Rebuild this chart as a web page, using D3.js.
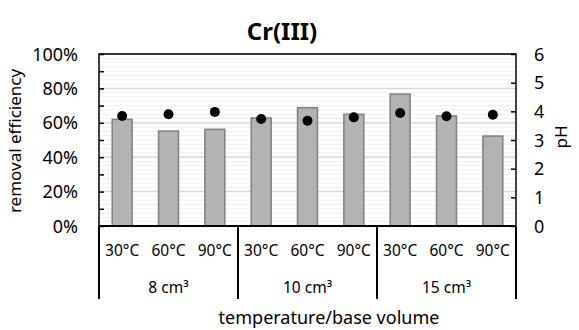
<!DOCTYPE html>
<html><head><meta charset="utf-8">
<script src="https://cdn.jsdelivr.net/npm/d3@7"></script>
<style>body{margin:0;background:#fff}svg{display:block}text{font-family:"Noto Sans",sans-serif;fill:#000}</style>
</head><body>
<svg id="c" width="579" height="330"></svg>
<script>
const temperatures = ["30°C","60°C","90°C","30°C","60°C","90°C","30°C","60°C","90°C"];
const groups = ["8 cm³","10 cm³","15 cm³"];
const efficiency = [0.62,0.552,0.562,0.628,0.688,0.649,0.767,0.64,0.523];
const pH = [3.84,3.90,3.98,3.73,3.67,3.79,3.94,3.83,3.88];
const effTicks = [0,0.2,0.4,0.6,0.8,1.0];
const pHTicks = [0,1,2,3,4,5,6];

const svg = d3.select("#c");
const L=99,R=516,T=54,B=226;
const idx = d3.range(temperatures.length);
const x = d3.scaleBand().domain(idx).range([L,R]).paddingInner(0.57).paddingOuter(0.285);
const xc = d3.scaleBand().domain(idx).range([L,R]);
const y = d3.scaleLinear().domain([0,1]).range([B,T]);
const y2 = d3.scaleLinear().domain([0,6]).range([B,T]);

// minor grid
svg.append("g").selectAll("line").data(d3.range(0,1.0001,0.025)).join("line")
  .attr("x1",L).attr("x2",R).attr("y1",d=>y(d)).attr("y2",d=>y(d))
  .attr("stroke","#efefef").attr("stroke-width",1);
svg.append("g").selectAll("line").data(effTicks).join("line")
  .attr("x1",L).attr("x2",R).attr("y1",d=>y(d)).attr("y2",d=>y(d))
  .attr("stroke","#d9d9d9").attr("stroke-width",1.5);

// bars
svg.append("g").selectAll("rect").data(efficiency).join("rect")
  .attr("x",(d,i)=>x(i)).attr("width",x.bandwidth())
  .attr("y",d=>y(d)).attr("height",d=>B-y(d))
  .attr("fill","#b3b3b3").attr("stroke","#7f7f7f").attr("stroke-width",1.5);

// dots
svg.append("g").selectAll("circle").data(pH).join("circle")
  .attr("cx",(d,i)=>xc(i)+xc.bandwidth()/2).attr("cy",d=>y2(d)).attr("r",5).attr("fill","#000");

// left axis
const ax = svg.append("g").attr("transform",`translate(${L},0)`)
  .call(d3.axisLeft(y).tickValues(d3.range(0,1.0001,0.1)).tickSize(-5).tickFormat(""));
ax.select(".domain").remove();
ax.selectAll("line").attr("stroke","#000").attr("stroke-width",1.5);
svg.append("g").selectAll("text").data(effTicks).join("text")
  .attr("x",78).attr("y",d=>y(d)+6.5).attr("text-anchor","end").attr("font-size",18)
  .text(d=>d3.format(".0%")(d));

// right axis
const ax2 = svg.append("g").attr("transform",`translate(${R},0)`)
  .call(d3.axisRight(y2).tickValues(pHTicks).tickSize(-5).tickFormat(""));
ax2.select(".domain").remove();
ax2.selectAll("line").attr("stroke","#000").attr("stroke-width",1.5);
svg.append("g").selectAll("text").data(pHTicks).join("text")
  .attr("x",534).attr("y",d=>y2(d)+6.5).attr("font-size",18).text(d=>d);

// frame
svg.append("rect").attr("x",L).attr("y",T).attr("width",R-L).attr("height",B-T)
  .attr("fill","none").attr("stroke","#000").attr("stroke-width",1.5);
svg.append("line").attr("x1",L).attr("x2",R).attr("y1",B).attr("y2",B).attr("stroke","#000").attr("stroke-width",2);

// category axis
svg.append("g").selectAll("text").data(temperatures).join("text")
  .attr("x",(d,i)=>xc(i)+xc.bandwidth()/2).attr("y",256).attr("text-anchor","middle")
  .attr("font-size",15.5).text(d=>d);
const gw = (R-L)/groups.length;
svg.append("g").selectAll("text").data(groups).join("text")
  .attr("x",(d,i)=>L+gw*(i+0.5)).attr("y",293).attr("text-anchor","middle")
  .attr("font-size",15.5).text(d=>d);
svg.append("g").selectAll("line").data(d3.range(groups.length+1)).join("line")
  .attr("x1",i=>L+gw*i).attr("x2",i=>L+gw*i).attr("y1",B).attr("y2",299)
  .attr("stroke","#000").attr("stroke-width",2);

// titles
svg.append("text").attr("x",282).attr("y",40).attr("text-anchor","middle")
  .attr("font-size",24).attr("font-weight","bold").text("Cr(III)");
svg.append("text").attr("x",329).attr("y",324).attr("text-anchor","middle")
  .attr("font-size",18).text("temperature/base volume");
svg.append("text").attr("transform","translate(21,141) rotate(-90)").attr("text-anchor","middle")
  .attr("font-size",17).text("removal efficiency");
svg.append("text").attr("transform","translate(567,137) rotate(-90)").attr("text-anchor","middle")
  .attr("font-size",17).text("pH");
</script>
</body></html>
